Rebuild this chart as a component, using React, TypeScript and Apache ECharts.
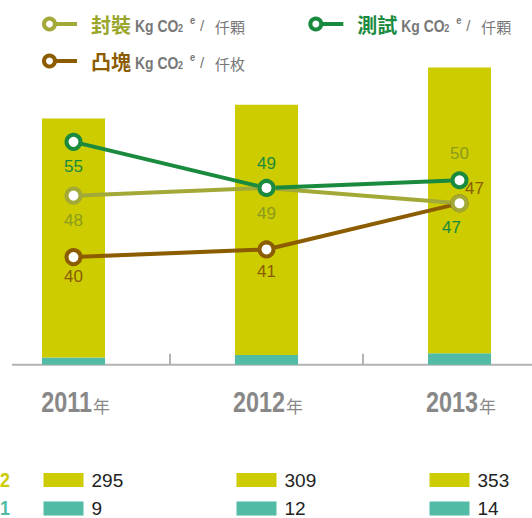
import { useEffect, useRef } from 'react';
import * as echarts from 'echarts';

// ---- data ----
const years = ['2011', '2012', '2013'];
const yearSuffix = '年';
const layer2 = [295, 309, 353];
const layer1 = [9, 12, 14];
const packaging = [48, 49, 47]; // 封裝
const testing = [55, 49, 50]; // 測試
const bumping = [40, 41, 47]; // 凸塊
const rowLabels = ['2', '1'];
const legendNames = ['封裝', '測試', '凸塊'];
const legendUnits = ['仟顆', '仟顆', '仟枚'];

const COL = {
  bar2: '#cccc00',
  bar1: '#52bba5',
  pack: '#a2a936',
  packLabel: '#8c9b1c',
  packTitle: '#9aa52c',
  test: '#1a8a3e',
  bump: '#8b5c00',
  axis: '#b3b3b3',
  gray: '#888888',
  legendGray: '#777777',
  value: '#222222',
};

const SANS = "'Liberation Sans', Arial, sans-serif";
const CJK = "'Noto Sans CJK TC', 'Noto Sans CJK SC', sans-serif";

type Lab = { position: string; distance: number; offset?: number[]; color?: string };

const packLabels: Lab[] = [
  { position: 'bottom', distance: 7 },
  { position: 'bottom', distance: 8 },
  { position: 'bottom', distance: 7, offset: [-8, 0], color: COL.test },
];
const testLabels: Lab[] = [
  { position: 'bottom', distance: 7 },
  { position: 'top', distance: 7 },
  { position: 'top', distance: 9, color: COL.packLabel },
];
const bumpLabels: Lab[] = [
  { position: 'bottom', distance: 2 },
  { position: 'bottom', distance: 5 },
  { position: 'top', distance: 0, offset: [15, 3] },
];

function lineSeries(name: string, values: number[], color: string, labelColor: string, labs: Lab[]) {
  return {
    name,
    type: 'line',
    yAxisIndex: 1,
    symbol: 'circle',
    symbolSize: 14,
    lineStyle: { color, width: 4 },
    itemStyle: { color: '#ffffff', borderColor: color, borderWidth: 4 },
    label: { show: true, fontSize: 17, fontFamily: SANS, color: labelColor },
    data: values.map((v, i) => ({
      value: v,
      label: {
        position: labs[i].position,
        distance: labs[i].distance,
        offset: labs[i].offset || [0, 0],
        color: labs[i].color || labelColor,
      },
    })),
  };
}

function legendItem(cx: number, cy: number, color: string, titleColor: string, title: string, unit: string) {
  const x0 = cx + 41.5;
  const g = COL.legendGray;
  return {
    type: 'group',
    children: [
      { type: 'line', shape: { x1: cx, y1: cy, x2: cx + 27.5, y2: cy }, style: { stroke: color, lineWidth: 4 } },
      { type: 'circle', shape: { cx, cy, r: 5.5 }, style: { fill: '#ffffff', stroke: color, lineWidth: 4 } },
      { type: 'text', x: x0, y: cy, style: { text: title, fontSize: 20, fontWeight: 'bold', fontFamily: CJK, fill: titleColor, verticalAlign: 'middle', align: 'left' } },
      { type: 'text', x: x0 + 44, y: cy + 2, scaleX: 0.82, style: { text: 'Kg CO', fontSize: 17, fontWeight: 'bold', fontFamily: SANS, fill: g, verticalAlign: 'middle', align: 'left' } },
      { type: 'text', x: x0 + 87, y: cy + 3.7, scaleX: 0.82, style: { text: '2', fontSize: 11, fontWeight: 'bold', fontFamily: SANS, fill: g, verticalAlign: 'middle', align: 'left' } },
      { type: 'text', x: x0 + 99, y: cy - 3.3, scaleX: 0.85, style: { text: 'e', fontSize: 11, fontWeight: 'bold', fontFamily: SANS, fill: g, verticalAlign: 'middle', align: 'left' } },
      { type: 'text', x: x0 + 109, y: cy + 1.5, style: { text: '/', fontSize: 15, fontFamily: SANS, fill: g, verticalAlign: 'middle', align: 'left' } },
      { type: 'text', x: x0 + 124, y: cy + 2, style: { text: unit, fontSize: 15, fontFamily: CJK, fill: g, verticalAlign: 'middle', align: 'left' } },
    ],
  };
}

export default function App() {
  const ref = useRef<HTMLDivElement>(null);
  useEffect(() => {
    if (!ref.current) return;
    const chart = echarts.init(ref.current, undefined, { renderer: 'svg' });
    chart.setOption({
      animation: false,
      grid: { left: -23, width: 579, top: 65, bottom: 153.3, containLabel: false, outerBoundsMode: 'none' },
      xAxis: {
        type: 'category',
        data: years,
        boundaryGap: true,
        axisLine: { show: false },
        axisTick: { show: true, inside: true, length: 11, lineStyle: { color: COL.axis, width: 2 } },
        axisLabel: { show: false },
      },
      yAxis: [
        { type: 'value', min: 0, max: 370, show: false, splitLine: { show: false } },
        { type: 'value', min: 26, max: 65, show: false, splitLine: { show: false } },
      ],
      series: [
        { name: '1', type: 'bar', stack: 'bars', barWidth: 63, data: layer1, itemStyle: { color: COL.bar1 } },
        { name: '2', type: 'bar', stack: 'bars', barWidth: 63, data: layer2, itemStyle: { color: COL.bar2 } },
        lineSeries(legendNames[2], bumping, COL.bump, COL.bump, bumpLabels),
        lineSeries(legendNames[0], packaging, COL.pack, COL.packLabel, packLabels),
        lineSeries(legendNames[1], testing, COL.test, COL.test, testLabels),
      ],
    });

    const baseY = chart.convertToPixel({ yAxisIndex: 0 }, 0) as number;
    const xs = years.map((y) => chart.convertToPixel({ xAxisIndex: 0 }, y) as number);
    const rowY = [480, 508.5];
    const rowLabelY = [479, 507];
    const rowColors = [COL.bar2, COL.bar1];
    const rowValues = [layer2, layer1];

    const graphics: any[] = [
      { type: 'line', shape: { x1: 12, y1: baseY, x2: 532, y2: baseY }, style: { stroke: COL.axis, lineWidth: 2 }, z: 1 },
      legendItem(49.5, 24, COL.pack, COL.packTitle, legendNames[0], legendUnits[0]),
      legendItem(315.8, 24, COL.test, COL.test, legendNames[1], legendUnits[1]),
      legendItem(49.5, 61, COL.bump, COL.bump, legendNames[2], legendUnits[2]),
    ];
    // category labels (year + 年), positioned by the category axis
    years.forEach((yr, i) => {
      graphics.push({
        type: 'text', x: xs[i] + 18.5, y: baseY + 37, scaleX: 0.78,
        style: { text: yr, fontSize: 30, fontWeight: 'bold', fontFamily: SANS, fill: COL.gray, verticalAlign: 'middle', align: 'right' },
      });
      graphics.push({
        type: 'text', x: xs[i] + 19.5, y: baseY + 40.5,
        style: { text: yearSuffix, fontSize: 17, fontFamily: CJK, fill: COL.gray, verticalAlign: 'middle', align: 'left' },
      });
    });
    rowLabels.forEach((lab, r) => {
      graphics.push({
        type: 'text', x: 0, y: rowLabelY[r], scaleX: 0.85,
        style: { text: lab, fontSize: 21, fontWeight: 'bold', fontFamily: SANS, fill: rowColors[r], verticalAlign: 'middle', align: 'left' },
      });
      xs.forEach((x, i) => {
        graphics.push({ type: 'rect', shape: { x: x - 30, y: rowY[r] - 7, width: 40, height: 14 }, style: { fill: rowColors[r] } });
        graphics.push({
          type: 'text', x: x + 18, y: rowY[r],
          style: { text: String(rowValues[r][i]), fontSize: 19, fontFamily: SANS, fill: COL.value, verticalAlign: 'middle', align: 'left' },
        });
      });
    });
    chart.setOption({ graphic: graphics });

    return () => chart.dispose();
  }, []);
  return <div ref={ref} style={{ position: 'absolute', left: 0, top: 0, width: 532, height: 518 }} />;
}
